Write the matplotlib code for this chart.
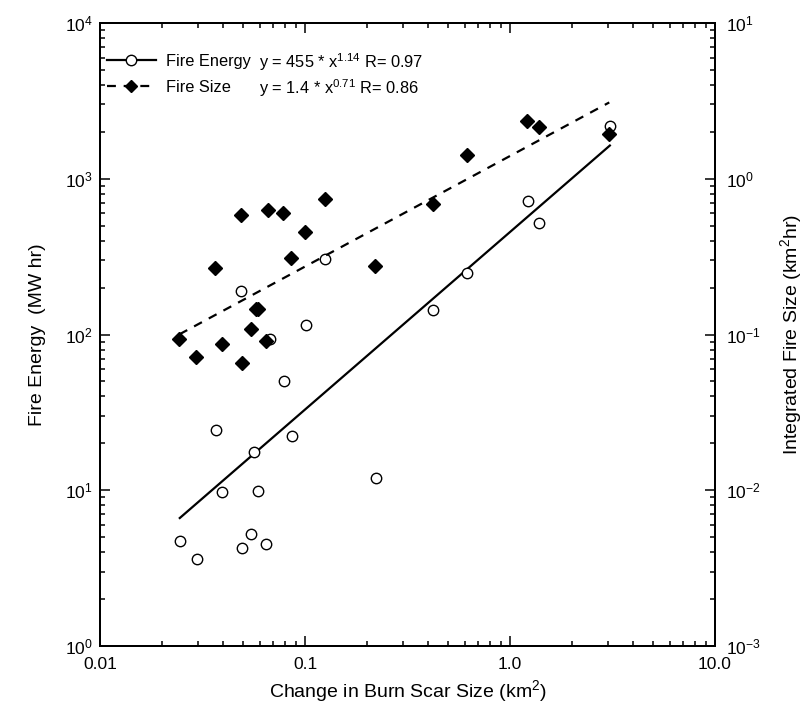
import matplotlib
matplotlib.use('Agg')
import matplotlib.pyplot as plt
from matplotlib.lines import Line2D
from matplotlib.ticker import NullFormatter
import numpy as np

plt.rcParams['font.family'] = ['Liberation Sans', 'DejaVu Sans']
plt.rcParams['mathtext.fontset'] = 'custom'
plt.rcParams['mathtext.rm'] = 'Liberation Sans'
plt.rcParams['mathtext.it'] = 'Liberation Sans'

# ─── Data ─────────────────────────────────────────────────────────────────────
# Fire Energy, left axis (MW hr)
energy_x = [0.079, 0.0366, 0.086, 0.0565, 0.0394, 0.0592, 0.221, 0.0245,
            0.0296, 0.0545, 0.0494, 0.0647, 0.0489, 0.125, 0.101, 0.0672,
            0.419, 3.07, 1.22, 1.38, 0.615]
energy_y = [50.5, 24.4, 22.3, 17.7, 9.76, 9.86, 11.9, 4.71,
            3.61, 5.25, 4.25, 4.53, 190, 305, 115, 94,
            144, 2180, 718, 520, 250]

# Fire Size, right axis (km^2 hr)
size_x = [0.0489, 0.0662, 0.0784, 0.125, 0.100, 0.0365, 0.0857, 0.220,
          0.419, 0.0574, 0.0592, 0.0543, 0.0244, 0.0392, 0.0648, 0.0294,
          0.0491, 1.206, 1.39, 0.615, 3.05]
size_y = [0.589, 0.634, 0.600, 0.736, 0.457, 0.269, 0.308, 0.276,
          0.690, 0.146, 0.146, 0.109, 0.0929, 0.0875, 0.0915, 0.0714,
          0.0653, 2.355, 2.154, 1.415, 1.95]

# power-law fits given in the legend: y = a * x^b, R
energy_fit = (455, 1.14, 0.97)
size_fit   = (1.4, 0.71, 0.86)

x_ticks  = [0.01, 0.1, 1.0, 10.0]
x_labels = ['0.01', '0.1', '1.0', '10.0']
yl_ticks = [1, 10, 100, 1000, 10000]
yr_ticks = [1e-3, 1e-2, 1e-1, 1, 10]
# ──────────────────────────────────────────────────────────────────────────────

FS = 11.8      # legend / equations
TFS = 12.5     # tick labels
LFS = 14       # axis labels
DASH = (0, (4, 3.5))

fig = plt.figure(figsize=(8.09, 7.06), dpi=100)
ax1 = fig.add_axes([100/809, 1 - 646/706, 615/809, 623/706])
ax2 = ax1.twinx()

fx = np.array([min(energy_x), max(energy_x)])
a, b, _ = energy_fit
ax1.plot(fx, a * fx**b, color='black', lw=1.6, zorder=2)
ax1.plot(energy_x, energy_y, 'o', ms=7.5, mfc='white', mec='black',
         mew=1.0, zorder=3)

sx = np.array([min(size_x), max(size_x)])
a, b, _ = size_fit
ax2.plot(sx, a * sx**b, color='black', lw=1.6, ls=DASH, zorder=2)
ax2.plot(size_x, size_y, 'D', ms=7, color='black', zorder=3)

ax1.set_xscale('log')
ax1.set_yscale('log')
ax2.set_yscale('log')
ax1.set_xlim(0.01, 10)
ax1.set_ylim(1, 1e4)
ax2.set_ylim(1e-3, 10)

ax1.set_xticks(x_ticks, labels=x_labels)
ax1.set_yticks(yl_ticks, labels=[f'$10^{{{int(np.log10(t))}}}$' for t in yl_ticks])
ax2.set_yticks(yr_ticks, labels=[f'$10^{{{int(round(np.log10(t)))}}}$' for t in yr_ticks])
for ax in (ax1, ax2):
    ax.xaxis.set_minor_formatter(NullFormatter())
    ax.yaxis.set_minor_formatter(NullFormatter())
    for s in ax.spines.values():
        s.set_linewidth(1.4)

ax1.tick_params(which='both', direction='in', top=True, right=False,
                labelsize=TFS, width=1.1)
ax1.tick_params(which='major', length=7)
ax1.tick_params(which='minor', length=3.5)
ax1.tick_params(axis='x', pad=8)
ax1.tick_params(axis='y', pad=5)
ax2.tick_params(which='both', direction='in', labelsize=TFS, width=1.1)
ax2.tick_params(which='major', length=7, pad=8)
ax2.tick_params(which='minor', length=3.5)

ax1.set_xlabel('Change in Burn Scar Size (km$^2$)', fontsize=LFS, labelpad=4)
ax1.set_ylabel('Fire Energy  (MW hr)', fontsize=LFS, labelpad=14)
ax2.set_ylabel('Integrated Fire Size (km$^2$hr)', fontsize=LFS, labelpad=12)

handles = [
    Line2D([], [], color='black', lw=1.6, marker='o', ms=7.5,
           mfc='white', mec='black'),
    Line2D([], [], color='black', lw=1.6, ls=DASH, marker='D', ms=6.5),
]
ax2.legend(handles, ['Fire Energy', 'Fire Size'], loc='upper left',
           bbox_to_anchor=(0.011, 0.951), borderaxespad=0, borderpad=0,
           frameon=False, fontsize=FS, handlelength=3.0,
           handletextpad=0.6, labelspacing=0.68, numpoints=1)

eqs = []
for fit in (energy_fit, size_fit):
    a, b, r = fit
    eqs.append(f'y = {a:g} * x$^{{{b:.2f}}}$ R= {r:.2f}')
ax2.text(0.258, 0.937, eqs[0], transform=ax2.transAxes, fontsize=FS,
         va='center', ha='left')
ax2.text(0.258, 0.895, eqs[1], transform=ax2.transAxes, fontsize=FS,
         va='center', ha='left')

fig.savefig('out.png', dpi=100)
